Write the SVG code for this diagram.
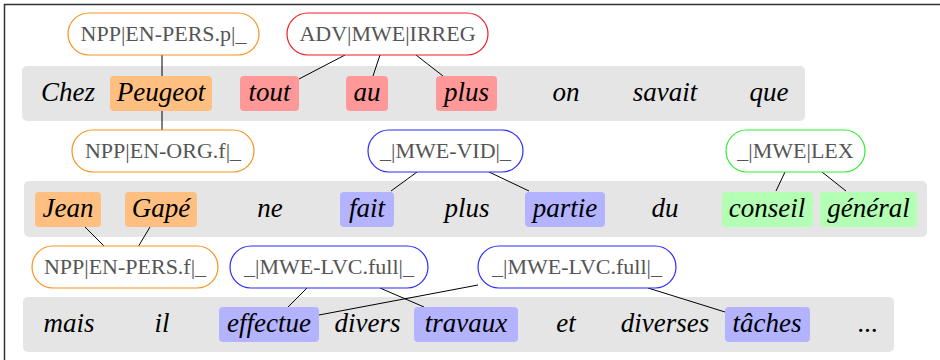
<svg xmlns="http://www.w3.org/2000/svg" width="940" height="360" viewBox="0 0 940 360">
<style>
.band{fill:#e5e5e5}
.tok{font-family:"Liberation Serif","DejaVu Serif",serif;font-style:italic;font-size:27px;fill:#000;text-anchor:middle}
.lab{font-family:"Liberation Serif","DejaVu Serif",serif;font-size:22px;fill:#555;text-anchor:middle}
.pill{fill:#fff;stroke-width:1.2}
.o{stroke:#f7941d}.r{stroke:#ed1c24}.b{stroke:#2b2bff}.g{stroke:#33ee33}
.fo{fill:#ffbf80}.fr{fill:#ff9999}.fb{fill:#b3b3ff}.fg{fill:#b3ffb3}
.con line{stroke:#000;stroke-width:1}
</style>
<rect x="0" y="0" width="940" height="360" fill="#fff"/>
<path d="M4.5,360 V4.5 H940" fill="none" stroke="#333" stroke-width="1.5"/>
<g id="bands">
<rect class="band" x="22" y="66" width="783" height="55" rx="5"/>
<rect class="band" x="24" y="181" width="903" height="56" rx="5"/>
<rect class="band" x="23" y="297" width="871" height="55" rx="5"/>
</g>
<g id="connectors" class="con">
<line x1="162" y1="55" x2="162" y2="76"/>
<line x1="162" y1="111" x2="162" y2="130"/>
<line x1="345" y1="55" x2="299" y2="79"/>
<line x1="380" y1="55" x2="373" y2="76"/>
<line x1="416" y1="55" x2="443" y2="76"/>
<line x1="417" y1="172" x2="391" y2="191"/>
<line x1="489" y1="172" x2="529" y2="191"/>
<line x1="785" y1="172" x2="776" y2="191"/>
<line x1="822" y1="172" x2="846" y2="191"/>
<line x1="85" y1="227" x2="105" y2="247"/>
<line x1="150" y1="227" x2="138" y2="247"/>
<line x1="307" y1="288" x2="288" y2="307"/>
<line x1="380" y1="288" x2="424" y2="307"/>
<line x1="319" y1="315" x2="478" y2="285"/>
<line x1="648" y1="288" x2="725" y2="312"/>
</g>
<g id="row1">
<text class="tok" x="68" y="101">Chez</text>
<g id="t-peugeot"><rect class="fo" x="110" y="76" width="102" height="35" rx="4"/><text class="tok" x="161" y="101">Peugeot</text></g>
<g id="t-tout"><rect class="fr" x="240" y="76" width="59" height="35" rx="4"/><text class="tok" x="269.5" y="101">tout</text></g>
<g id="t-au"><rect class="fr" x="346" y="76" width="42" height="35" rx="4"/><text class="tok" x="367" y="101">au</text></g>
<g id="t-plus"><rect class="fr" x="436" y="76" width="61" height="35" rx="4"/><text class="tok" x="466.5" y="101">plus</text></g>
<text class="tok" x="566" y="101">on</text>
<text class="tok" x="665" y="101">savait</text>
<text class="tok" x="769" y="101">que</text>
</g>
<g id="row2">
<g id="t-jean"><rect class="fo" x="35" y="192" width="66" height="35" rx="4"/><text class="tok" x="68" y="217">Jean</text></g>
<g id="t-gape"><rect class="fo" x="125" y="192" width="72" height="35" rx="4"/><text class="tok" x="161" y="217">Gapé</text></g>
<text class="tok" x="270" y="217">ne</text>
<g id="t-fait"><rect class="fb" x="340" y="192" width="54" height="35" rx="4"/><text class="tok" x="367" y="217">fait</text></g>
<text class="tok" x="467" y="217">plus</text>
<g id="t-partie"><rect class="fb" x="525" y="192" width="80" height="35" rx="4"/><text class="tok" x="565" y="217">partie</text></g>
<text class="tok" x="665" y="217">du</text>
<g id="t-conseil"><rect class="fg" x="722" y="192" width="91" height="35" rx="4"/><text class="tok" x="767" y="217">conseil</text></g>
<g id="t-general"><rect class="fg" x="820" y="192" width="97" height="35" rx="4"/><text class="tok" x="868.5" y="217">général</text></g>
</g>
<g id="row3">
<text class="tok" x="69" y="332">mais</text>
<text class="tok" x="162" y="332">il</text>
<g id="t-effectue"><rect class="fb" x="219" y="307" width="100" height="35" rx="4"/><text class="tok" x="269" y="332">effectue</text></g>
<text class="tok" x="367.5" y="332">divers</text>
<g id="t-travaux"><rect class="fb" x="414" y="307" width="104" height="35" rx="4"/><text class="tok" x="466" y="332">travaux</text></g>
<text class="tok" x="566" y="332">et</text>
<text class="tok" x="665" y="332">diverses</text>
<g id="t-taches"><rect class="fb" x="725" y="307" width="85" height="35" rx="4"/><text class="tok" x="767" y="332">tâches</text></g>
<text class="tok" x="868" y="332">...</text>
</g>
<g id="n-npp-pers-p"><rect class="pill o" x="68" y="13" width="191" height="42" rx="21"/><text class="lab" x="163.5" y="41">NPP|EN-PERS.p|_</text></g>
<g id="n-adv"><rect class="pill r" x="287" y="13" width="201" height="42" rx="21"/><text class="lab" x="387.5" y="41">ADV|MWE|IRREG</text></g>
<g id="n-npp-org"><rect class="pill o" x="72" y="130" width="182" height="42" rx="21"/><text class="lab" x="163" y="158">NPP|EN-ORG.f|_</text></g>
<g id="n-vid"><rect class="pill b" x="368" y="130" width="155" height="42" rx="21"/><text class="lab" x="445.5" y="158">_|MWE-VID|_</text></g>
<g id="n-lex"><rect class="pill g" x="726" y="130" width="139" height="42" rx="21"/><text class="lab" x="795.5" y="158">_|MWE|LEX</text></g>
<g id="n-npp-pers-f"><rect class="pill o" x="32" y="246" width="186" height="42" rx="21"/><text class="lab" x="125" y="274">NPP|EN-PERS.f|_</text></g>
<g id="n-lvc1"><rect class="pill b" x="230" y="246" width="198" height="42" rx="21"/><text class="lab" x="329" y="274">_|MWE-LVC.full|_</text></g>
<g id="n-lvc2"><rect class="pill b" x="478" y="246" width="198" height="42" rx="21"/><text class="lab" x="577" y="274">_|MWE-LVC.full|_</text></g>
</svg>
